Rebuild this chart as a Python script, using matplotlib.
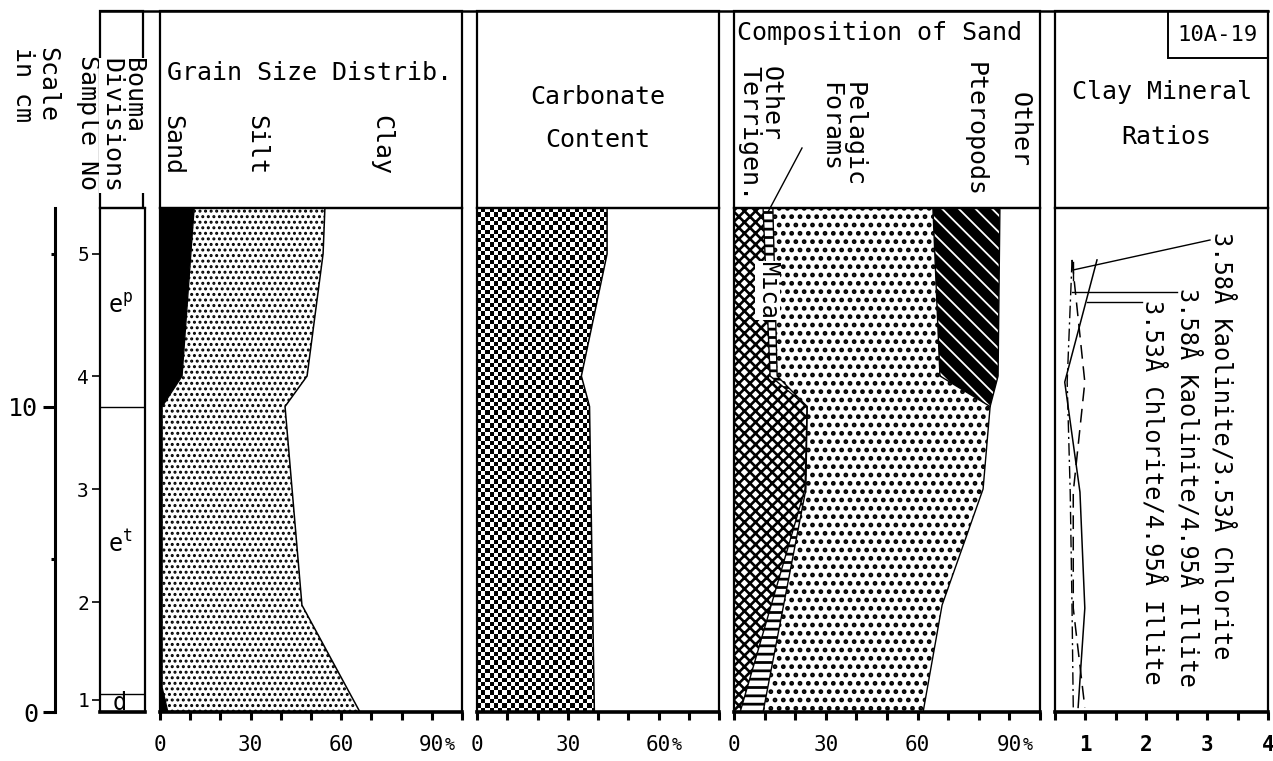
import numpy as np
import matplotlib
matplotlib.use('Agg')
import matplotlib.pyplot as plt
from matplotlib.patches import Polygon, Rectangle

plt.rcParams['font.family'] = ['DejaVu Sans Mono', 'DejaVu Sans']
plt.rcParams['mathtext.default'] = 'regular'

W, H = 1273, 761

# core length in cm (top of the sampled interval)
core_top = 16.5

# samples
sample_no = ['1', '2', '3', '4', '5']
sample_depth = [0.4, 3.6, 7.3, 11.0, 15.0]

# Bouma divisions
bouma_bounds = [10.0, 0.6]
bouma_labels = ['$e^p$', '$e^t$', 'd']
bouma_label_depth = [13.3, 5.5, 0.3]

# grain size distribution (cumulative %, from the left)
sand_depth = [16.5, 11.0, 10.0, 0.8, 0.0]
sand_pct = [11.3, 7.3, 0.7, 0.7, 2.6]
silt_depth = [16.5, 15.0, 11.0, 10.0, 3.5, 0.0]
silt_pct = [54.6, 54.0, 48.7, 41.4, 47.0, 66.2]

# carbonate content (%)
carb_depth = [16.5, 15.0, 11.0, 10.0, 0.0]
carb_pct = [43.0, 43.0, 34.5, 37.2, 38.8]

# composition of sand (cumulative %)
terr_depth = [16.5, 11.0, 10.0, 7.3, 0.0]
terr_pct = [9.5, 11.8, 23.9, 23.2, 2.0]
mica_depth = [16.5, 11.0, 10.0, 7.3, 0.0]
mica_pct = [12.7, 14.1, 23.9, 23.5, 9.5]
foram_depth = [16.5, 11.0, 10.0, 7.3, 3.5, 0.0]
foram_pct = [65.0, 67.3, 83.7, 81.4, 68.0, 61.8]
ptero_depth = [16.5, 11.0, 10.0]
ptero_pct = [86.9, 86.3, 83.7]

# clay mineral ratios
clay_depth = [14.8, 10.8, 7.2, 3.4, 0.15]
kao_chl = [0.78, 0.70, 0.75, 0.78, 0.80]   # 3.58A kaolinite / 3.53A chlorite
kao_ill = [0.78, 0.99, 0.80, 0.80, 0.99]   # 3.58A kaolinite / 4.95A illite
chl_ill = [1.19, 0.66, 0.91, 0.99, 0.88]   # 3.53A chlorite / 4.95A illite

fig = plt.figure(figsize=(W / 100, H / 100), dpi=100)
fig.patch.set_facecolor('white')


def px_axes(x0, y0, x1, y1):
    return fig.add_axes([x0 / W, 1 - y1 / H, (x1 - x0) / W, (y1 - y0) / H])


def hatch_lw(p, lw):
    try:
        p.set_hatch_linewidth(lw)
    except AttributeError:
        p._hatch_linewidth = lw


def band(ax, ld, lx, rd, rx, **kw):
    pts = list(zip(lx, ld)) + list(zip(rx[::-1], rd[::-1]))
    p = Polygon(pts, closed=True, **kw)
    ax.add_patch(p)
    return p


def panel(ax, xmin, xmax, ticks, labels, pct=True, bold=False):
    ax.set_xlim(xmin, xmax)
    ax.set_ylim(0, core_top)
    ax.set_yticks([])
    for s in ax.spines.values():
        s.set_linewidth(1.6)
    ax.spines['bottom'].set_linewidth(2.6)
    ax.set_xticks(ticks)
    ax.set_xticklabels([])
    ax.tick_params(axis='x', direction='out', length=6, width=2.2)
    tr = ax.get_xaxis_transform()
    for i, v in enumerate(labels):
        ax.text(v, -0.066, f'{v:g}', transform=tr, ha='center', va='center',
                fontsize=15, fontweight='bold' if bold else 'normal')
        if pct and i == len(labels) - 1:
            ax.text(v + 4.3, -0.066, '%', transform=tr, ha='left', va='center',
                    fontsize=12)


# --- scale in cm
ax_s = px_axes(55, 208, 56, 712)
ax_s.set_ylim(0, core_top)
ax_s.set_xticks([])
for k in ['top', 'right', 'bottom']:
    ax_s.spines[k].set_visible(False)
ax_s.spines['left'].set_linewidth(2.2)
ax_s.set_yticks([0, 10])
ax_s.set_yticklabels(['0', '10'], fontsize=18)
ax_s.set_yticks([5, 15], minor=True)
ax_s.tick_params(axis='y', which='major', length=9, width=2.2, pad=3)
ax_s.tick_params(axis='y', which='minor', length=3, width=2.2)

# --- sample numbers / Bouma divisions
ax_b = px_axes(100, 208, 145, 712)
ax_b.set_xlim(0, 1)
ax_b.set_ylim(0, core_top)
ax_b.set_xticks([])
ax_b.set_yticks(sample_depth)
ax_b.set_yticklabels(sample_no, fontsize=14)
ax_b.tick_params(axis='y', length=6, width=1.2, pad=2)
for s in ax_b.spines.values():
    s.set_linewidth(1.6)
ax_b.spines['bottom'].set_linewidth(2.6)
for d in bouma_bounds:
    ax_b.axhline(d, color='black', lw=1.0)
for lab, d in zip(bouma_labels, bouma_label_depth):
    ax_b.text(0.45, d, lab, ha='center', va='center', fontsize=17)

# --- grain size
ax_g = px_axes(160, 208, 462, 712)
panel(ax_g, 0, 100, np.arange(0, 101, 10), [0, 30, 60, 90])
band(ax_g, [core_top, 0], [0, 0], sand_depth, sand_pct, facecolor='black', lw=0)
p = band(ax_g, sand_depth, sand_pct, silt_depth, silt_pct, facecolor='white',
         edgecolor='black', hatch='...', lw=0)
hatch_lw(p, 1.4)
ax_g.plot(sand_pct, sand_depth, color='black', lw=1.0)
ax_g.plot(silt_pct, silt_depth, color='black', lw=1.1)

# --- carbonate
ax_c = px_axes(477, 208, 719, 712)
panel(ax_c, 0, 80, np.arange(0, 81, 10), [0, 30, 60])
cp = band(ax_c, [core_top, 0], [0, 0], carb_depth, carb_pct, fill=False, lw=0)
ny, nx = int(core_top / 0.14), int(80 / 1.4)
checker = np.indices((ny, nx)).sum(axis=0) % 2
im = ax_c.imshow(checker, cmap='gray_r', extent=(0, 80, 0, core_top),
                 aspect='auto', interpolation='nearest', origin='lower')
im.set_clip_path(cp)
ax_c.plot(carb_pct, carb_depth, color='black', lw=1.1)
ax_c.set_xlim(0, 80)
ax_c.set_ylim(0, core_top)

# --- composition of sand
ax_m = px_axes(734, 208, 1040, 712)
panel(ax_m, 0, 100, np.arange(0, 101, 10), [0, 30, 60, 90])
p = band(ax_m, [core_top, 0], [0, 0], terr_depth, terr_pct, facecolor='white',
         edgecolor='black', hatch='xxx', lw=0)
hatch_lw(p, 1.9)
p = band(ax_m, terr_depth, terr_pct, mica_depth, mica_pct, facecolor='white',
         edgecolor='black', hatch='--', lw=0)
hatch_lw(p, 2.0)
p = band(ax_m, mica_depth, mica_pct, foram_depth, foram_pct, facecolor='white',
         edgecolor='black', hatch='..', lw=0)
hatch_lw(p, 2.2)
n_top = len(ptero_depth)
p = band(ax_m, foram_depth[:n_top], foram_pct[:n_top], ptero_depth, ptero_pct,
         facecolor='black', edgecolor='white', hatch='\\\\', lw=0)
hatch_lw(p, 1.3)
for xs, ds in [(terr_pct, terr_depth), (mica_pct, mica_depth),
               (foram_pct, foram_depth), (ptero_pct, ptero_depth)]:
    ax_m.plot(xs, ds, color='black', lw=1.0)
ax_m.text(11.0, 13.8, 'Mica', rotation=-90, ha='center', va='center',
          fontsize=17, bbox=dict(facecolor='white', edgecolor='none', pad=0.5))

# --- clay mineral ratios
ax_r = px_axes(1055, 208, 1268, 712)
panel(ax_r, 0.5, 4.0, np.arange(0.5, 4.01, 0.5), [1, 2, 3, 4], pct=False,
      bold=True)
ax_r.plot(chl_ill, clay_depth, color='black', lw=1.1, ls='-')
ax_r.plot(kao_ill, clay_depth, color='black', lw=1.1, ls=(0, (9, 5)))
ax_r.plot(kao_chl, clay_depth, color='black', lw=1.0, ls=(0, (9, 3, 1.5, 3)))

# --- headers and overlay drawing in pixel space
ov = fig.add_axes([0, 0, 1, 1])
ov.set_xlim(0, W)
ov.set_ylim(H, 0)
ov.axis('off')
ov.patch.set_alpha(0)

ov.plot([100, 1268], [11, 11], color='black', lw=1.8)
for x0, x1 in [(100, 143), (160, 462), (477, 719), (734, 1040), (1055, 1268)]:
    ov.add_patch(Rectangle((x0, 11), x1 - x0, 197, fill=False, lw=1.6))
ov.add_patch(Rectangle((1168, 11), 100, 47, fill=False, lw=1.4))

fs = 18
ov.text(35, 47, 'Scale\nin cm', rotation=-90, ha='center', va='top', fontsize=fs,
        multialignment='left', linespacing=1.0)
ov.text(88, 55, 'Sample No', rotation=-90, ha='center', va='top', fontsize=fs)
ov.text(122, 58, 'Bouma\nDivisions', rotation=-90, ha='center', va='top',
        fontsize=fs, multialignment='left', linespacing=0.9,
        bbox=dict(facecolor='white', edgecolor='none', pad=0))
ov.text(167, 73, 'Grain Size Distrib.', ha='left', va='center', fontsize=fs)
ov.text(172, 115, 'Sand', rotation=-90, ha='center', va='top', fontsize=fs)
ov.text(256, 115, 'Silt', rotation=-90, ha='center', va='top', fontsize=fs)
ov.text(381, 115, 'Clay', rotation=-90, ha='center', va='top', fontsize=fs)
ov.text(598, 97, 'Carbonate', ha='center', va='center', fontsize=fs)
ov.text(598, 140, 'Content', ha='center', va='center', fontsize=fs)
ov.text(737, 33, 'Composition of Sand', ha='left', va='center', fontsize=fs)
ov.text(760, 66, 'Other\nTerrigen.', rotation=-90, ha='center', va='top',
        fontsize=fs, multialignment='left', linespacing=0.9)
ov.text(842, 82, 'Pelagic\nForams', rotation=-90, ha='center', va='top',
        fontsize=fs, multialignment='left', linespacing=1.0)
ov.text(975, 62, 'Pteropods', rotation=-90, ha='center', va='top', fontsize=fs)
ov.text(1020, 92, 'Other', rotation=-90, ha='center', va='top', fontsize=fs)
ov.plot([802, 768], [148, 212], color='black', lw=1.0)
ov.text(1218, 35, '10A-19', ha='center', va='center', fontsize=16)
ov.text(1162, 92, 'Clay Mineral', ha='center', va='center', fontsize=fs)
ov.text(1166, 137, 'Ratios', ha='center', va='center', fontsize=fs)

fc = 17
ov.text(1222, 232, '3.58Å Kaolinite/3.53Å Chlorite', rotation=-90, ha='center',
        va='top', fontsize=fc)
ov.text(1188, 288, '3.58Å Kaolinite/4.95Å Illite', rotation=-90, ha='center',
        va='top', fontsize=fc)
ov.text(1153, 300, '3.53Å Chlorite/4.95Å Illite', rotation=-90, ha='center',
        va='top', fontsize=fc)
ov.plot([1210, 1073], [240, 270], color='black', lw=1.0)
ov.plot([1073, 1073], [262, 280], color='black', lw=1.0)
ov.plot([1177, 1072], [292, 292], color='black', lw=1.0)
ov.plot([1142, 1087], [302, 302], color='black', lw=1.0)

fig.savefig('out.png', dpi=100)
